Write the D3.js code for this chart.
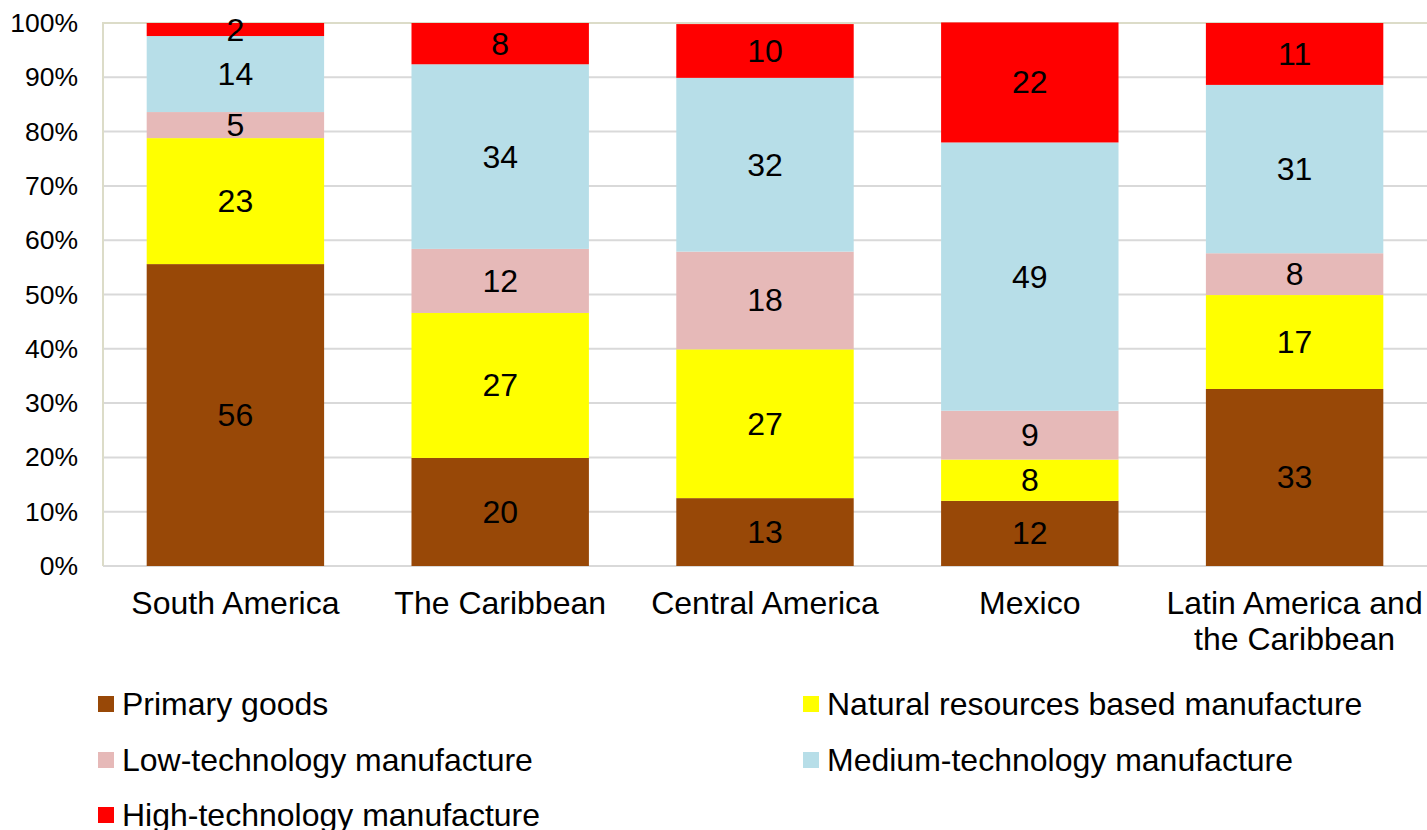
<!DOCTYPE html>
<html>
<head>
<meta charset="utf-8">
<script src="https://cdn.jsdelivr.net/npm/d3@7"></script>
<style>
  html, body { margin: 0; padding: 0; background: #ffffff; }
  svg { display: block; font-family: "Liberation Sans", Arial, sans-serif; }
</style>
</head>
<body>
<svg id="chart" width="1427" height="830"></svg>
<script>
const categories = [["South America"], ["The Caribbean"], ["Central America"], ["Mexico"], ["Latin America and", "the Caribbean"]];
const seriesNames = ["Primary goods", "Natural resources based manufacture", "Low-technology manufacture", "Medium-technology manufacture", "High-technology manufacture"];
const seriesColors = ["#984807", "#FFFF00", "#E6B9B8", "#B7DEE8", "#FF0000"];
const primaryGoods = [55.6, 19.9, 12.5, 12.0, 32.6];
const naturalResources = [23.2, 26.7, 27.4, 7.6, 17.3];
const lowTech = [4.8, 11.8, 18.0, 9.0, 7.7];
const mediumTech = [14.0, 34.0, 32.0, 49.4, 31.0];
const highTech = [2.4, 7.6, 9.9, 22.1, 11.4];
const yTicks = [0, 10, 20, 30, 40, 50, 60, 70, 80, 90, 100];

(function () {
const seriesValues = [primaryGoods, naturalResources, lowTech, mediumTech, highTech];
const keys = categories.map(c => c.join(" "));
const rows = keys.map((k, i) => {
  const r = { key: k };
  seriesNames.forEach((s, j) => r[s] = seriesValues[j][i]);
  return r;
});
const stacked = d3.stack().keys(seriesNames)(rows);

const svg = d3.select("#chart");
const pLeft = 103, pRight = 1427, pTop = 23, pBottom = 566;
const x = d3.scaleBand().domain(keys).range([pLeft, pRight]).paddingInner(0.33).paddingOuter(0.165);
const y = d3.scaleLinear().domain([0, 100]).range([pBottom, pTop]);

// gridlines
svg.append("g").selectAll("line").data(yTicks.filter(t => t > 0 && t < 100)).join("line")
  .attr("x1", pLeft).attr("x2", pRight)
  .attr("y1", d => y(d)).attr("y2", d => y(d))
  .attr("stroke", "#d9d9d9").attr("stroke-width", 2);
svg.append("line").attr("x1", pLeft).attr("x2", pRight).attr("y1", y(0)).attr("y2", y(0))
  .attr("stroke", "#d9d9d9").attr("stroke-width", 2);
svg.append("line").attr("x1", pLeft).attr("x2", pRight).attr("y1", y(100)).attr("y2", y(100))
  .attr("stroke", "#dcdcc8").attr("stroke-width", 2);

// bars
const layers = svg.append("g").selectAll("g").data(stacked).join("g")
  .attr("fill", (d, i) => seriesColors[i]);
layers.selectAll("rect").data(d => d).join("rect")
  .attr("x", d => x(d.data.key))
  .attr("width", x.bandwidth())
  .attr("y", d => y(d[1]))
  .attr("height", d => y(d[0]) - y(d[1]));

svg.append("line").attr("x1", pLeft).attr("x2", pLeft).attr("y1", y(100) - 1).attr("y2", y(0))
  .attr("stroke", "#dcdcc8").attr("stroke-width", 2);

// data labels
const labels = svg.append("g").selectAll("g").data(stacked).join("g");
labels.selectAll("text").data(d => d).join("text")
  .attr("x", d => x(d.data.key) + x.bandwidth() / 2)
  .attr("y", d => (y(d[0]) + y(d[1])) / 2)
  .attr("text-anchor", "middle")
  .attr("dominant-baseline", "central")
  .attr("font-size", 32)
  .attr("fill", "#000")
  .text(d => d3.format(".0f")(d[1] - d[0]));

// y axis labels
svg.append("g").selectAll("text").data(yTicks).join("text")
  .attr("x", 78).attr("y", d => y(d))
  .attr("text-anchor", "end").attr("dominant-baseline", "central")
  .attr("font-size", 26.5).attr("fill", "#000")
  .text(d => d + "%");

// category labels
const cat = svg.append("g").selectAll("text").data(categories).join("text")
  .attr("x", (d, i) => x(keys[i]) + x.bandwidth() / 2)
  .attr("y", 603)
  .attr("text-anchor", "middle").attr("dominant-baseline", "central")
  .attr("font-size", 32).attr("fill", "#000");
cat.selectAll("tspan").data(d => d).join("tspan")
  .attr("x", function () { return d3.select(this.parentNode).attr("x"); })
  .attr("dy", (d, i) => i === 0 ? 0 : 36)
  .text(d => d);

// legend
const legendPos = [[98, 704], [803, 704], [98, 760], [803, 760], [98, 815]];
const lg = svg.append("g").selectAll("g").data(seriesNames).join("g")
  .attr("transform", (d, i) => `translate(${legendPos[i][0]},${legendPos[i][1]})`);
lg.append("rect").attr("x", 0).attr("y", -8).attr("width", 16).attr("height", 16)
  .attr("fill", (d, i) => seriesColors[i]);
lg.append("text").attr("x", 24).attr("y", 0).attr("dominant-baseline", "central")
  .attr("font-size", 32).attr("fill", "#000").text(d => d);
})();
</script>
</body>
</html>
